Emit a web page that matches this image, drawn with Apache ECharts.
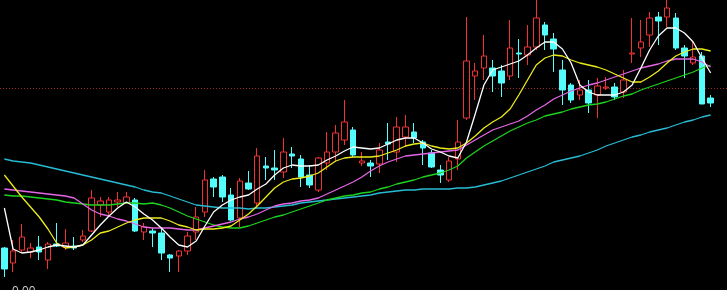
<!DOCTYPE html>
<html><head><meta charset="utf-8">
<script src="https://cdn.jsdelivr.net/npm/echarts/dist/echarts.min.js"></script>
<style>html,body{margin:0;padding:0;background:#000;}#c{width:727px;height:290px;}</style>
</head><body><div id="c"></div>
<script>
const categories = ['1','2','3','4','5','6','7','8','9','10','11','12','13','14','15','16','17','18','19','20','21','22','23','24','25','26','27','28','29','30','31','32','33','34','35','36','37','38','39','40','41','42','43','44','45','46','47','48','49','50','51','52','53','54','55','56','57','58','59','60','61','62','63','64','65','66','67','68','69','70','71','72','73','74','75','76','77','78','79','80','81','82'];
const opens = [42,27,40,38,43,30,46,43,44,50, 59,85,78,88,87,90,58,59,57,35, 34,39,58,78,111,113,95,72,107,87, 124,122,118,136,131,115,100,127,138,150, 160,127,127,126,148,138,153,158,148,137, 120,110,131,172,214,222,222,219,214,237, 235,243,265,251,220,205,195,200,195,202, 203,198,236,242,255,273,273,272,242,227, 234,192];
const closes = [21,39,53,42,38,46,44,47,42,54, 92,89,90,90,93,59,63,57,37,32, 39,54,73,110,103,93,70,109,101,134, 122,120,138,134,113,105,132,138,157,168, 135,129,124,140,146,163,163,152,142,123, 115,129,148,229,219,234,214,207,242,236, 243,272,255,241,200,190,200,187,204,203, 193,210,237,248,272,269,282,242,234,233, 186,187];
const lows = [13,18,37,32,30,21,43,40,40,48, 58,73,75,83,86,58,50,43,30,18, 18,35,50,73,93,88,69,63,100,82, 110,110,112,122,103,102,98,120,128,145, 133,124,113,117,130,128,143,147,125,122, 107,108,120,170,190,210,198,193,210,212, 225,240,240,218,185,187,190,177,172,200, 190,192,227,233,243,245,263,240,212,225, 186,183];
const highs = [43,50,66,47,54,48,67,61,53,60, 100,93,93,98,98,92,67,62,62,36, 40,58,83,120,113,115,102,112,119,142, 133,140,152,143,135,125,133,158,165,190, 163,138,130,147,167,173,175,167,150,140, 125,133,170,273,227,255,230,225,270,251, 265,290,268,257,230,207,210,210,212,213, 207,220,272,270,278,278,290,277,245,248, 238,195];
const ma5 = [82,41,37,38,40,43,45,44,43,45, 55,65,74,82,88,83,76,70,62,53, 45,43,49,64,78,85,90,93,95,101, 106,115,122,125,124,124,125,130,134,139, 143,142,141,142,146,150,152,152,147,141, 138,134,132,148,176,205,220,223,226,229, 235,242,248,248,241,227,205,198,195,195, 195,198,205,222,240,254,262,262,257,248, 232,217];
const ma10 = [115,104,93,83,73,61,47,42,43,45, 50,57,59,63,67,70,72,72,72,69, 65,63,60,61,61,62,64,70,76,84, 93,102,108,111,112,114,117,123,129,132, 133,133,133,134,137,140,144,146,147,144, 142,141,142,147,154,162,168,173,181,195, 210,225,232,235,234,230,227,225,223,220, 216,212,208,208,213,219,227,234,238,241, 241,239];
const ma20 = [101,100,99,98,97,96,95,94,92,86, 80,76,74,71,69,66,63,62,62,62, 61,60,60,62,64,66,68,71,73,76, 80,84,86,87,89,90,92,96,100,104, 108,113,119,124,128,131,134,135,136,137, 138,139,140,145,150,155,160,163,166,169, 174,180,185,191,195,199,202,205,207,210, 213,216,219,222,224,226,229,231,231,231, 228,223];
const ma30 = [95,94,94,93,92,91,90,88,87,86, 85,85,85,86,87,87,86,87,85,82, 78,74,71,68,65,63,62,62,64,67, 70,73,75,78,81,84,87,90,92,94, 95,97,98,101,103,106,108,110,113,115, 117,120,124,132,138,144,149,154,159,163, 167,170,174,176,178,181,183,185,186,188, 191,194,196,200,203,206,209,212,215,218, 222,225];
const ma60 = [131,129,128,127,125,123,121,119,117,115, 113,111,109,107,105,103,100,98,97,94, 91,88,85,84,83,82,82,82,81,82, 82,83,84,85,87,88,89,90,91,92, 93,94,95,97,98,99,100,100,101,101, 101,101,102,102,103,105,107,109,112,115, 118,121,124,128,130,132,134,137,140,144, 147,150,153,155,158,160,162,165,168,170, 173,175];
const refLevel = 202;
const cornerLabel = '0.00';

const candles = opens.map((o, i) => [o, closes[i], lows[i], highs[i]]);
const chart = echarts.init(document.getElementById('c'), null, {renderer: 'canvas'});
function maSeries(name, data, color) {
  return {name, type: 'line', data, symbol: 'none', smooth: false, z: 3,
    lineStyle: {color, width: 1.3}, itemStyle: {color}, silent: true};
}
chart.setOption({
  backgroundColor: '#000000',
  animation: false,
  grid: {left: -2, width: 717, top: 0, bottom: 0},
  xAxis: {type: 'category', data: categories, show: false, boundaryGap: true},
  yAxis: {type: 'value', min: 0, max: 290, show: false, splitLine: {show: false}},
  series: [
    {type: 'candlestick', data: candles, barWidth: 6, z: 2,
      itemStyle: {color: '#000000', color0: '#54fcfc', borderColor: '#f03232', borderColor0: '#54fcfc', borderWidth: 1}},
    maSeries('MA60', ma60, '#28bcd4'),
    maSeries('MA30', ma30, '#1ed21e'),
    maSeries('MA20', ma20, '#e466e4'),
    maSeries('MA10', ma10, '#ecec1c'),
    maSeries('MA5', ma5, '#ffffff')
  ]
});
const yRef = Math.round(chart.convertToPixel({yAxisIndex: 0}, refLevel)) + 0.5;
chart.setOption({
  graphic: [
    {type: 'line', z: 1, shape: {x1: 0, y1: yRef, x2: 727, y2: yRef},
      style: {stroke: '#9a2626', lineWidth: 1, lineDash: [1, 2]}},
    {type: 'text', left: 12, top: 286, z: 5,
      style: {text: cornerLabel, fill: '#c8c8c8', font: '12px sans-serif'}}
  ]
});
</script></body></html>
